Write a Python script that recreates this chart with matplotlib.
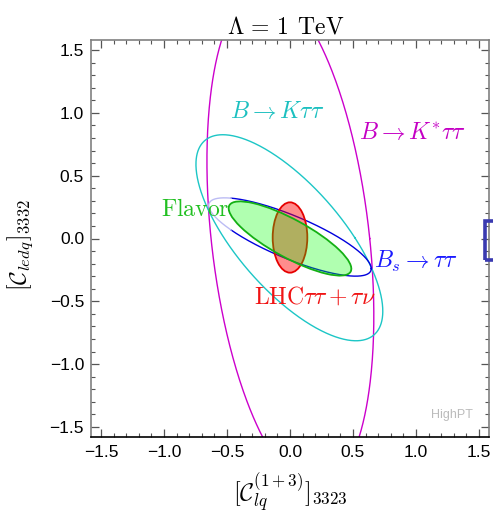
import numpy as np
import matplotlib
matplotlib.use('Agg')
import matplotlib.pyplot as plt
from matplotlib.patches import Ellipse, Rectangle
from matplotlib.ticker import MultipleLocator, FuncFormatter

plt.rcParams['mathtext.fontset'] = 'cm'
plt.rcParams['font.family'] = ['Liberation Sans', 'DejaVu Sans']

# ---------------- data (contour ellipses) ----------------
# B -> K* tau tau : x = xc + shear*(y-yc) + hw*cos t ; y = yc + hh*sin t
bkstar_center = [0.003, 0.0]
bkstar_shear = -0.103
bkstar_hw = 0.63
bkstar_hh = 1.99

# B -> K tau tau (same form)
bk_center = [-0.005, 0.006]
bk_shear = -0.645
bk_hw = 0.52
bk_hh = 0.82

# Bs -> tau tau : x = xc + hw*cos t ; y = yc + slope*(x-xc) + hh*sin t
bs_center = [0.0, 0.012]
bs_slope = -0.39
bs_hw = 0.645
bs_hh = 0.184
bs_faint_below_x = -0.47

# Flavor (combined) : rotated ellipse
flavor_center = [0.0, 0.0]
flavor_semi = [0.549, 0.152]
flavor_angle = -28.7

# LHC tau tau + tau nu
lhc_center = [0.0, 0.008]
lhc_semi = [0.1375, 0.28]
lhc_angle = 0.0

# HighPT marker box (clipped at the right edge)
box_x = 1.547
box_y = [-0.174, 0.143]

axis_lim = [-1.58, 1.58]
ticks_major = 0.5
ticks_minor = 0.1

labels = {
    'bk': r'$B \to K\tau\tau$',
    'bkstar': r'$B \to K^{*}\tau\tau$',
    'flavor': r'$\mathrm{Flavor}$',
    'bs': r'$B_s \to \tau\tau$',
    'lhc': r'$\mathrm{LHC}\tau\tau + \tau\nu$',
}

# ---------------- figure ----------------
W, H = 493, 514
fig = plt.figure(figsize=(W / 100, H / 100), dpi=100)
ax = fig.add_axes([91 / W, 1 - 437 / H, 398 / W, 397 / H])

t = np.linspace(0, 2 * np.pi, 721)


def sheared_x(center, shear, hw, hh):
    y = center[1] + hh * np.sin(t)
    x = center[0] + shear * (y - center[1]) + hw * np.cos(t)
    return x, y


mag = '#cc00cc'
cya = '#1cc6c6'
blu = '#0000dd'

x, y = sheared_x(bkstar_center, bkstar_shear, bkstar_hw, bkstar_hh)
ax.plot(x, y, color=mag, lw=1.0, zorder=2)

x, y = sheared_x(bk_center, bk_shear, bk_hw, bk_hh)
ax.plot(x, y, color=cya, lw=1.0, zorder=2)

# Bs ellipse
xb = bs_center[0] + bs_hw * np.cos(t)
yb = bs_center[1] + bs_slope * (xb - bs_center[0]) + bs_hh * np.sin(t)
faint = xb < bs_faint_below_x
ax.plot(xb, np.where(faint, np.nan, yb), color=blu, lw=1.0, zorder=3)
fm = faint | np.roll(faint, 1) | np.roll(faint, -1)
ax.plot(xb, np.where(fm, yb, np.nan), color='#bcbcf4', lw=1.0, zorder=3)

# LHC (red) then Flavor (green) on top
ax.add_patch(Ellipse(lhc_center, 2 * lhc_semi[0], 2 * lhc_semi[1], angle=lhc_angle,
                     facecolor=(1, 0, 0, 0.45), edgecolor='#e60000', lw=1.3, zorder=4))
ax.add_patch(Ellipse(flavor_center, 2 * flavor_semi[0], 2 * flavor_semi[1], angle=flavor_angle,
                     facecolor=(0.0, 1.0, 0.0, 0.31), edgecolor='none', zorder=5))
ax.add_patch(Ellipse(flavor_center, 2 * flavor_semi[0], 2 * flavor_semi[1], angle=flavor_angle,
                     facecolor='none', edgecolor='#14b014', lw=1.3, zorder=6))

# HighPT box (partially outside)
ax.add_patch(Rectangle((box_x, box_y[0]), 0.4, box_y[1] - box_y[0], fill=False,
                       edgecolor='#3a3ab0', lw=2.6, clip_on=False, zorder=7))

# labels
fs = 17
ax.text(-0.104, 1.009, labels['bk'], color='#1cc0c0', fontsize=fs, ha='center', va='center')
ax.text(0.976, 0.842, labels['bkstar'], color='#c400c4', fontsize=fs, ha='center', va='center')
ax.text(-0.755, 0.223, labels['flavor'], color='#22c022', fontsize=fs, ha='center', va='center')
ax.text(0.999, -0.182, labels['bs'], color='#1a1aff', fontsize=fs, ha='center', va='center')
ax.text(0.198, -0.468, labels['lhc'], color='#f01414', fontsize=fs, ha='center', va='center')
ax.text(1.285, -1.404, 'HighPT', color='#bbbbbb', fontsize=9, ha='center', va='center')

ax.set_xlim(axis_lim)
ax.set_ylim(axis_lim)
for a in (ax.xaxis, ax.yaxis):
    a.set_major_locator(MultipleLocator(ticks_major))
    a.set_minor_locator(MultipleLocator(ticks_minor))
    a.set_major_formatter(FuncFormatter(lambda v, p: ('%.1f' % v).replace('-', '\u2212')))

ax.tick_params(which='both', direction='in', top=True, right=True, color='#555555',
               labelsize=12.5, labelcolor='black')
ax.tick_params(which='major', length=5.5, width=0.9)
ax.tick_params(which='minor', length=3.0, width=0.8)
ax.tick_params(axis='x', pad=6)
ax.tick_params(axis='y', pad=5)
for s in ('left', 'top', 'right'):
    ax.spines[s].set_color('#808080')
    ax.spines[s].set_linewidth(1.2)
ax.spines['bottom'].set_color('black')
ax.spines['bottom'].set_linewidth(1.2)

fig.text(285.5 / W, 1 - 27 / H, r'$\Lambda\,=\,1\;\,\mathrm{TeV}$', fontsize=17,
         ha='center', va='center')
fig.text(290 / W, 1 - 493 / H, r'$[\mathcal{C}_{lq}^{(1+3)}]_{3323}$', fontsize=17.5,
         ha='center', va='center')
fig.text(20 / W, 1 - 245 / H, r'$[\mathcal{C}_{ledq}]_{3332}$', fontsize=17,
         ha='center', va='center', rotation=90)

fig.savefig('out.png', dpi=100)
